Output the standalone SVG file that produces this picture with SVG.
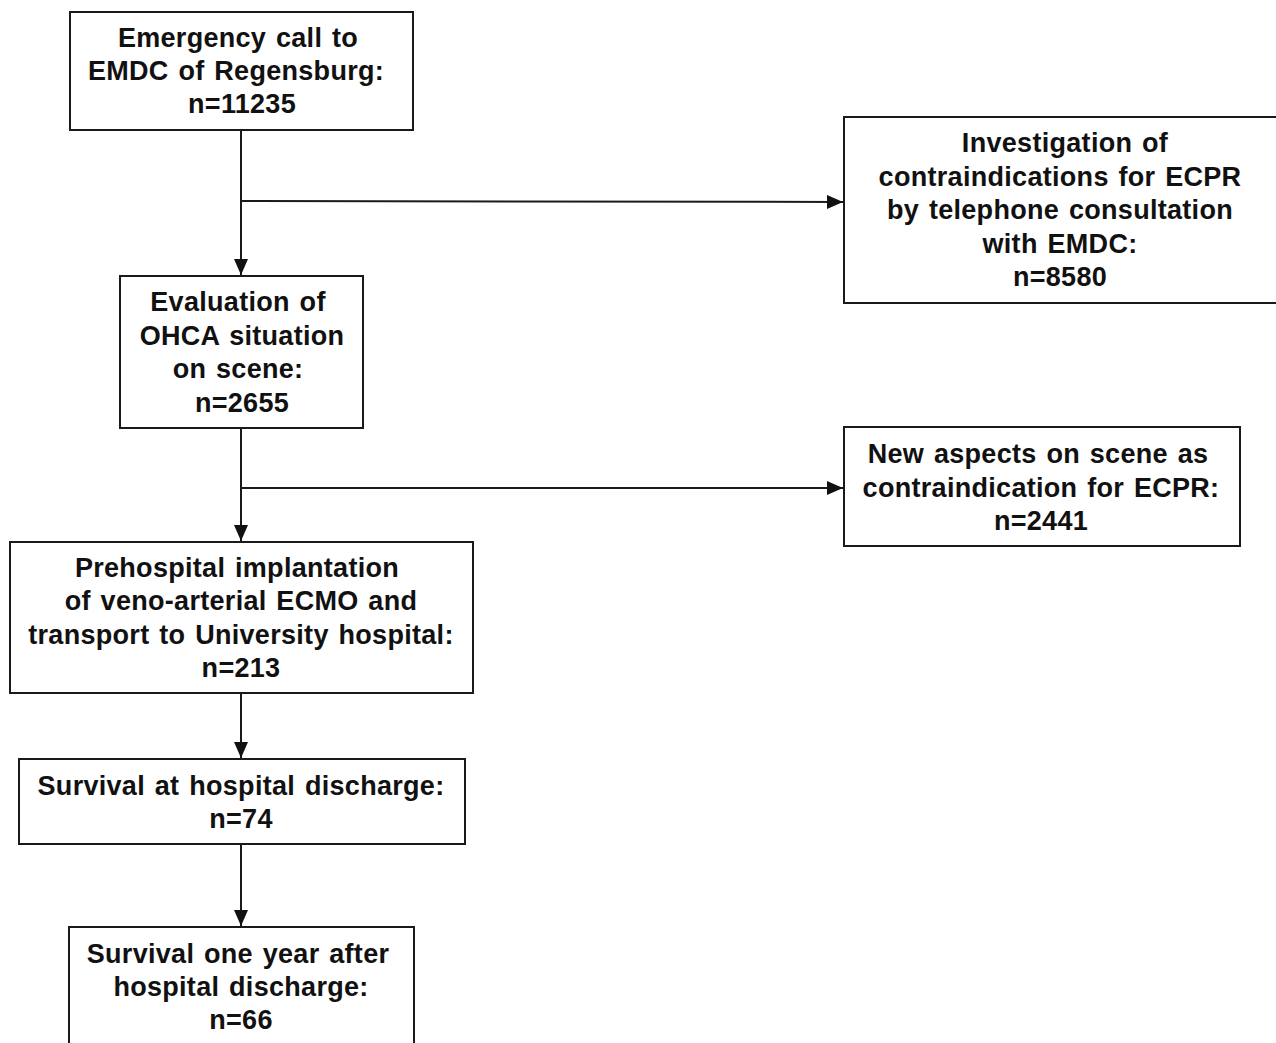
<svg xmlns="http://www.w3.org/2000/svg" width="1276" height="1043" viewBox="0 0 1276 1043">
<defs>
<style>
.box{fill:#fff;stroke:#1a1a1a;stroke-width:2}
.t{font-family:"Liberation Sans",Arial,sans-serif;font-weight:bold;font-size:27px;letter-spacing:0.3px;word-spacing:2px;fill:#111;text-anchor:middle}
.ln{stroke:#1a1a1a;stroke-width:2;fill:none}
</style>
<marker id="ah" markerWidth="16" markerHeight="14" viewBox="0 0 16 14" refX="16" refY="7" orient="auto" markerUnits="userSpaceOnUse">
<path d="M0,0 L16,7 L0,14 Z" fill="#111"/>
</marker>
</defs>
<rect width="1276" height="1043" fill="#fff"/>
<g id="connectors">
<line class="ln" x1="241" y1="130" x2="241" y2="275" marker-end="url(#ah)"/>
<line class="ln" x1="241" y1="201" x2="843" y2="202" marker-end="url(#ah)"/>
<line class="ln" x1="241" y1="428" x2="241" y2="541" marker-end="url(#ah)"/>
<line class="ln" x1="241" y1="488" x2="843" y2="488" marker-end="url(#ah)"/>
<line class="ln" x1="241" y1="694" x2="241" y2="758" marker-end="url(#ah)"/>
<line class="ln" x1="241" y1="844" x2="241" y2="926" marker-end="url(#ah)"/>
</g>
<g id="n1">
<rect class="box" x="70" y="12" width="343" height="118"/>
<text class="t" x="238" y="47">Emergency call to</text>
<text class="t" x="236" y="80">EMDC of Regensburg:</text>
<text class="t" x="242" y="113">n=11235</text>
</g>
<g id="n2">
<rect class="box" x="844" y="117" width="440" height="186"/>
<text class="t" x="1065" y="152">Investigation of</text>
<text class="t" x="1060" y="186">contraindications for ECPR</text>
<text class="t" x="1060" y="219">by telephone consultation</text>
<text class="t" x="1060" y="253">with EMDC:</text>
<text class="t" x="1060" y="286">n=8580</text>
</g>
<g id="n3">
<rect class="box" x="120" y="276" width="243" height="152"/>
<text class="t" x="238" y="311">Evaluation of</text>
<text class="t" x="242" y="345">OHCA situation</text>
<text class="t" x="238" y="378">on scene:</text>
<text class="t" x="242" y="412">n=2655</text>
</g>
<g id="n4">
<rect class="box" x="844" y="427" width="396" height="119"/>
<text class="t" x="1038" y="463">New aspects on scene as</text>
<text class="t" x="1041" y="497">contraindication for ECPR:</text>
<text class="t" x="1041" y="530">n=2441</text>
</g>
<g id="n5">
<rect class="box" x="10" y="542" width="463" height="151"/>
<text class="t" x="237" y="577">Prehospital implantation</text>
<text class="t" x="241" y="610">of veno-arterial ECMO and</text>
<text class="t" x="241" y="644">transport to University hospital:</text>
<text class="t" x="241" y="677">n=213</text>
</g>
<g id="n6">
<rect class="box" x="19" y="759" width="446" height="85"/>
<text class="t" x="241" y="795">Survival at hospital discharge:</text>
<text class="t" x="241" y="828">n=74</text>
</g>
<g id="n7">
<rect class="box" x="69" y="927" width="345" height="130"/>
<text class="t" x="238" y="963">Survival one year after</text>
<text class="t" x="241" y="996">hospital discharge:</text>
<text class="t" x="241" y="1029">n=66</text>
</g>
</svg>
